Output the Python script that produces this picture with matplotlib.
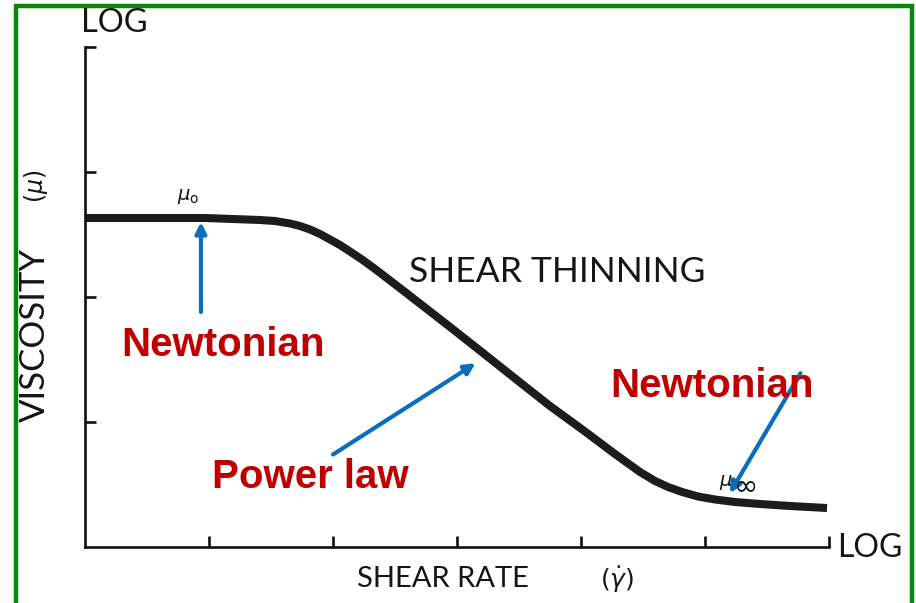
import matplotlib
matplotlib.use("Agg")
import matplotlib.pyplot as plt
from matplotlib.patches import Rectangle

# Flow curve: log viscosity versus log shear rate (axis units)
shear_rate = [0.0, 0.968, 1.411, 1.532, 1.653, 1.734, 1.815, 1.895, 1.976,
              2.056, 2.137, 2.234, 2.339, 2.460, 2.581, 2.944, 3.210,
              3.484, 3.750, 4.016, 4.274, 4.476, 4.597, 4.702, 4.815, 4.944,
              5.081, 5.242, 5.444, 5.685, 5.984]
viscosity = [2.632, 2.632, 2.616, 2.608, 2.588, 2.568, 2.540, 2.504, 2.460,
             2.416, 2.364, 2.300, 2.224, 2.132, 2.040, 1.760, 1.552,
             1.336, 1.128, 0.936, 0.744, 0.600, 0.528, 0.480, 0.440, 0.404,
             0.380, 0.360, 0.344, 0.328, 0.312]

x_ticks = [1, 2, 3, 4, 5, 6]
y_ticks = [1, 2, 3, 4]

W, H = 916, 603
fig = plt.figure(figsize=(W / 100, H / 100), dpi=100)


def fx(px):
    return px / W


def fy(py):
    return 1 - py / H


ax = fig.add_axes([fx(85), fy(547), fx(829) - fx(85), fy(47) - fy(547)])
ax.set_xlim(0, 6)
ax.set_ylim(0, 4)
for s in ("top", "right"):
    ax.spines[s].set_visible(False)
for s in ("left", "bottom"):
    ax.spines[s].set_linewidth(1.9)
    ax.spines[s].set_color("#111111")
ax.set_xticks(x_ticks)
ax.set_yticks(y_ticks)
ax.tick_params(axis="both", direction="in", length=8, width=1.9,
               color="#111111", labelbottom=False, labelleft=False)
ax.patch.set_alpha(0)

ax.plot(shear_rate, viscosity, color="#1c1c1c", lw=5.8, solid_capstyle="butt",
        solid_joinstyle="round", clip_on=False)

blue = "#0a6ebd"
arrows = [((0.935, 2.60), (0.935, 1.88)),
          ((3.15, 1.47), (2.0, 0.74)),
          ((5.20, 0.43), (5.77, 1.39))]
for tip, tail in arrows:
    ax.annotate("", xy=tip, xytext=tail,
                arrowprops=dict(arrowstyle="-|>", color=blue, lw=3,
                                mutation_scale=16, shrinkA=0, shrinkB=0))

txt = dict(family="Lato", color="#151515")
fig.text(fx(81), fy(23), "LOG", fontsize=23.5, ha="left", va="center", **txt)
fig.text(fx(837), fy(548), "LOG", fontsize=23, ha="left", va="center", **txt)
fig.text(fx(357), fy(579), "SHEAR RATE", fontsize=21, ha="left", va="center", **txt)
fig.text(fx(617), fy(580), r"$(\dot{\gamma})$", fontsize=18, ha="center",
         va="center", color="#151515")
fig.text(fx(409), fy(272), "SHEAR THINNING", fontsize=25.5, ha="left",
         va="center", **txt)
fig.text(fx(35), fy(335), "VISCOSITY", fontsize=25, ha="center", va="center",
         rotation=90, **txt)
fig.text(fx(36), fy(186), r"$(\mu)$", fontsize=17, ha="center", va="center",
         rotation=90, color="#151515")
fig.text(fx(188), fy(196), r"$\mu_\mathrm{o}$", fontsize=14, ha="center",
         va="center", color="#151515")
fig.text(fx(726), fy(482), r"$\mu$", fontsize=14, ha="center",
         va="center", color="#151515")
fig.text(fx(746), fy(486), "∞", family="DejaVu Sans", fontsize=21,
         ha="center", va="center", color="#151515")

red = dict(family="Liberation Sans", fontweight="bold", color="#c00000",
           fontsize=29, ha="left", va="center")
fig.text(fx(121), fy(345), "Newtonian", **red)
fig.text(fx(610), fy(386), "Newtonian", **red)
fig.text(fx(212), fy(477), "Power law", **red)

fig.patches.append(Rectangle((fx(15.5), fy(620)), fx(912.5) - fx(15.5),
                             fy(5.5) - fy(620), transform=fig.transFigure,
                             fill=False, edgecolor="#0a840a", lw=3.2,
                             clip_on=False))

fig.savefig("out.png", dpi=100)
